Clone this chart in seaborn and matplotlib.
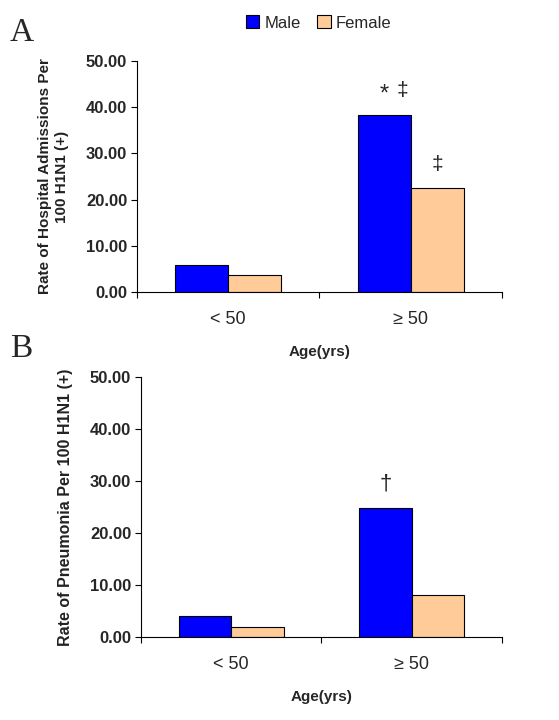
import matplotlib as mpl
mpl.use("Agg")
from matplotlib import pyplot as plt
from matplotlib.patches import Patch
import seaborn as sns
import pandas as pd

ages = ["< 50", "\u2265 50"]
sexes = ["Male", "Female"]
admissions_male = [5.8, 38.3]
admissions_female = [3.6, 22.4]
pneumonia_male = [4.0, 24.9]
pneumonia_female = [1.9, 8.0]
yticks = [0, 10, 20, 30, 40, 50]

colors = {"Male": "#0000FF", "Female": "#FFCC99"}


def make_df(male, female):
    rows = []
    for i, a in enumerate(ages):
        rows.append({"Age": a, "Sex": "Male", "Rate": male[i]})
        rows.append({"Age": a, "Sex": "Female", "Rate": female[i]})
    return pd.DataFrame(rows)


sns.set_style("white")
plt.rcParams["font.family"] = ["Liberation Sans", "DejaVu Sans"]

fig = plt.figure(figsize=(5.59, 7.2), dpi=100)
axA = fig.add_axes([0.245, 0.5944, 0.653, 0.321])
axB = fig.add_axes([0.252, 0.1153, 0.646, 0.361])


def draw(ax, df, ylabel, pad, size):
    sns.barplot(data=df, x="Age", y="Rate", hue="Sex", hue_order=sexes,
                palette=colors, saturation=1, width=0.58, edgecolor="black",
                linewidth=0.8, errorbar=None, legend=False, ax=ax)
    ax.set_ylim(0, 50)
    ax.set_xlim(-0.5, 1.5)
    ax.set_yticks(yticks)
    ax.set_yticklabels(["%.2f" % t for t in yticks], fontweight="bold", fontsize=12)
    ax.set_xticks([0, 1])
    ax.set_xticklabels(ages, fontsize=13)
    ax.set_xticks([-0.5, 0.5, 1.5], minor=True)
    ax.tick_params(axis="x", which="major", length=0, pad=14)
    ax.tick_params(axis="x", which="minor", bottom=True, length=4, width=0.8,
                   direction="out", color="black")
    ax.tick_params(axis="y", left=True, length=4, width=0.8, direction="out",
                   color="black", pad=3)
    for s in ["top", "right"]:
        ax.spines[s].set_visible(False)
    for s in ["left", "bottom"]:
        ax.spines[s].set_color("black")
        ax.spines[s].set_linewidth(0.8)
    ax.set_xlabel("Age(yrs)", fontweight="bold", fontsize=11, labelpad=12)
    ax.set_ylabel(ylabel, fontsize=size, fontweight="bold", color="#222222",
                  labelpad=pad, linespacing=1.3)


draw(axA, make_df(admissions_male, admissions_female),
     "Rate of Hospital Admissions Per\n100 H1N1 (+)", 12, 11)
draw(axB, make_df(pneumonia_male, pneumonia_female),
     "Rate of Pneumonia Per 100 H1N1 (+)", 12, 11.5)

# significance marks
axA.text(0.855, admissions_male[1] + 4.5, "*", ha="center", va="center", fontsize=17)
axA.text(0.955, admissions_male[1] + 5.2, "\u2021", ha="center", va="center", fontsize=15)
axA.text(1.145, admissions_female[1] + 5.2, "\u2021", ha="center", va="center", fontsize=15)
axB.text(0.855, pneumonia_male[1] + 4.5, "\u2020", ha="center", va="center", fontsize=16)

fig.text(0.018, 0.955, "A", family="Liberation Serif", fontsize=24, va="center")
fig.text(0.018, 0.515, "B", family="Liberation Serif", fontsize=24, va="center")

handles = [Patch(facecolor=colors[s], edgecolor="black", linewidth=0.8) for s in sexes]
fig.legend(handles, sexes, loc="center", bbox_to_anchor=(0.57, 0.968), ncol=2,
           frameon=False, fontsize=12, handlelength=0.8, handleheight=0.8,
           handletextpad=0.3, columnspacing=1.0)

fig.savefig("out.png", dpi=100)
